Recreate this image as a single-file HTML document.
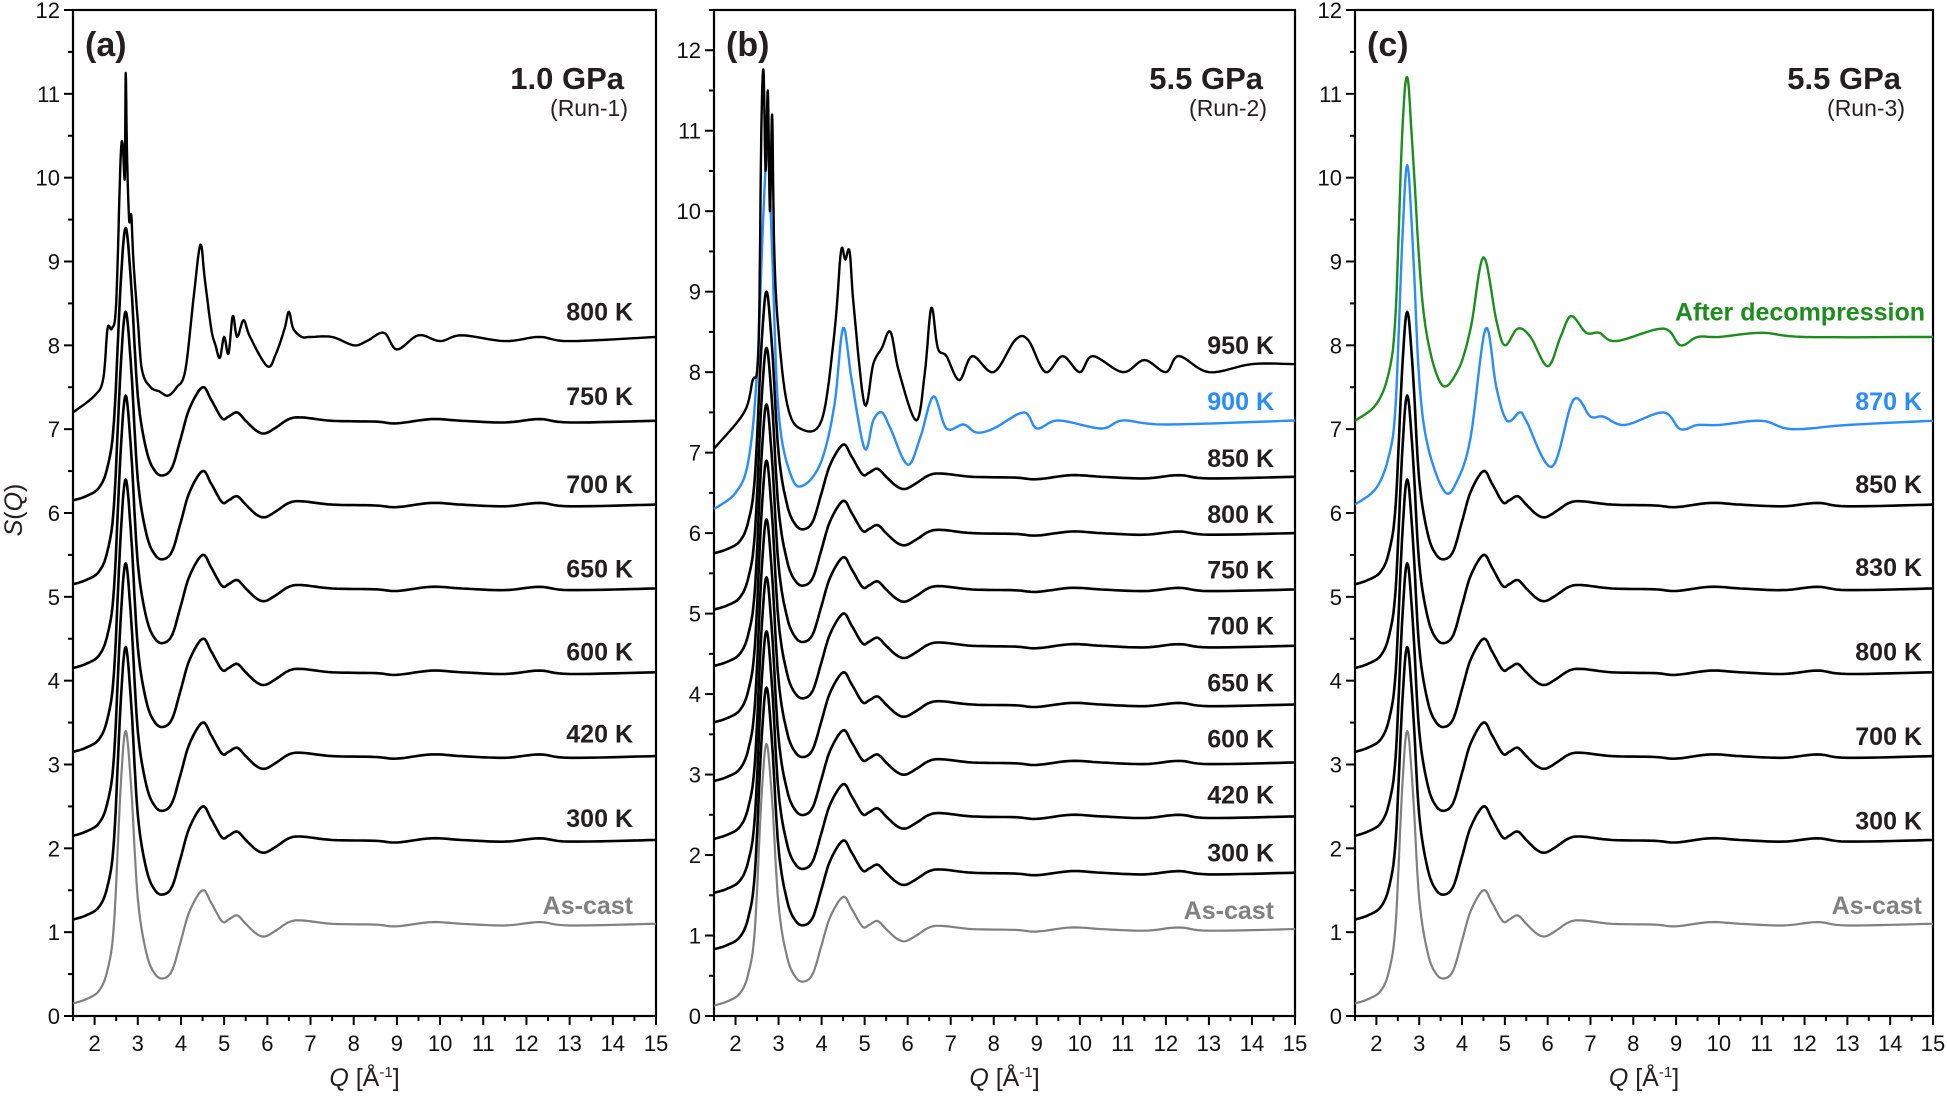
<!DOCTYPE html>
<html><head><meta charset="utf-8"><style>
html,body{margin:0;padding:0;background:#fff;}
svg{display:block;font-family:"Liberation Sans",sans-serif;}
</style></head><body>
<svg id="s" width="1947" height="1096" viewBox="0 0 1947 1096" xmlns="http://www.w3.org/2000/svg"></svg>
<script>
const S=document.getElementById('s');const NS='http://www.w3.org/2000/svg';
const sc=1.2417;
function el(t,a,txt){const e=document.createElementNS(NS,t);for(const k in a)e.setAttribute(k,a[k]);if(txt!==undefined)e.textContent=txt;S.appendChild(e);return e;}
const Y0=1016,YT=10;
const panels=[{L:73,R:656,M:12},{L:714,R:1295,M:12.5},{L:1355,R:1933,M:12}];
function py(p,v){return Y0-v*(Y0-YT)/p.M;}
function px(p,q){return p.L+(q-1.5)/13.5*(p.R-p.L);}
function cr(pts){
 const out=[];for(let i=0;i<pts.length-1;i++){const p0=pts[Math.max(0,i-1)],p1=pts[i],p2=pts[i+1],p3=pts[Math.min(pts.length-1,i+2)];
 for(let k=0;k<8;k++){const t=k/8,t2=t*t,t3=t2*t;
 const f=(a,b,c,d)=>0.5*((2*b)+(-a+c)*t+(2*a-5*b+4*c-d)*t2+(-a+3*b-3*c+d)*t3);
 out.push([f(p0[0],p1[0],p2[0],p3[0]),f(p0[1],p1[1],p2[1],p3[1])]);}}
 out.push(pts[pts.length-1]);return out;}
function curve(p,pts,col,w){const s=cr(pts);let d='';s.forEach((q,i)=>{d+=(i?'L':'M')+px(p,q[0]).toFixed(1)+','+py(p,q[1]).toFixed(1);});
 el('path',{d:d,fill:'none',stroke:col,'stroke-width':w,'stroke-linejoin':'round'});}
const T=[[1.5,-0.95],[1.8,-0.9],[2.1,-0.8],[2.3,-0.55],[2.45,0],[2.6,1.6],[2.72,2.3],[2.85,1.6],[3.0,0.3],[3.2,-0.35],[3.4,-0.6],[3.6,-0.65],[3.8,-0.55],[4.0,-0.2],[4.2,0.15],[4.5,0.4],[4.7,0.25],[4.95,0.03],[5.1,0.05],[5.3,0.1],[5.5,0.0],[5.75,-0.12],[5.95,-0.15],[6.2,-0.08],[6.5,0.02],[6.8,0.04],[7.5,0.0],[8.5,-0.01],[9,-0.03],[9.8,0.02],[10.5,0.0],[11.5,-0.02],[12.3,0.02],[13,-0.02],[15,0]];
function amo(B){return T.map(q=>[q[0],B+q[1]]);}
const BK='#000',GR='#808080',BL='#2a8cff',GN='#1e8c1e';
panels.forEach((p,i)=>{
 el('rect',{x:p.L,y:YT,width:p.R-p.L,height:Y0-YT,fill:'none',stroke:'#000','stroke-width':2.2});
 for(let v=0;v<=p.M+0.01;v+=0.5){const maj=v%1==0;el('line',{x1:p.L-(maj?9:5),x2:p.L,y1:py(p,v),y2:py(p,v),stroke:'#000','stroke-width':2});
  if(maj)el('text',{x:p.L-13,y:py(p,v)+8,'text-anchor':'end','font-size':22,fill:'#111'},v);}
 for(let q=1.5;q<=15.01;q+=0.5){const maj=q%1==0;el('line',{x1:px(p,q),x2:px(p,q),y1:Y0,y2:Y0+(maj?9:5),stroke:'#000','stroke-width':2});
  if(maj)el('text',{x:px(p,q),y:Y0+35,'text-anchor':'middle','font-size':22,fill:'#111'},q);}
 const t=el('text',{x:(p.L+p.R)/2,y:1086,'text-anchor':'middle','font-size':25,fill:'#231f20'});
 t.innerHTML='<tspan font-style="italic">Q</tspan> [Å<tspan font-size="15" dy="-9">-1</tspan><tspan dy="9">]</tspan>';
});
const yl=el('text',{x:0,y:0,'text-anchor':'middle','font-size':25,fill:'#231f20',transform:'translate(22,510) rotate(-90)'});
yl.innerHTML='<tspan font-style="italic">S</tspan>(<tspan font-style="italic">Q</tspan>)';
const tit=[['(a)','1.0 GPa','(Run-1)'],['(b)','5.5 GPa','(Run-2)'],['(c)','5.5 GPa','(Run-3)']];
panels.forEach((p,i)=>{
 el('text',{x:p.L+12,y:56,'font-size':34,'font-weight':'bold',fill:'#231f20'},tit[i][0]);
 el('text',{x:p.R-32,y:89,'text-anchor':'end','font-size':31,'font-weight':'bold',fill:'#231f20'},tit[i][1]);
 el('text',{x:p.R-28,y:116,'text-anchor':'end','font-size':23,fill:'#231f20'},tit[i][2]);
});
function lab(p,txt,yc,col,rx){el('text',{x:rx,y:(yc+8)*sc,'text-anchor':'end','font-size':25,'font-weight':'bold',fill:col},txt);}
let P=panels[0];
curve(P,amo(1.1),GR,2.2);
[2.1,3.1,4.1,5.1,6.1,7.1].forEach(B=>curve(P,amo(B),BK,2.6));
curve(P,[[1.5,7.2],[2.0,7.4],[2.2,7.6],[2.3,8.2],[2.4,8.2],[2.5,8.5],[2.6,10.2],[2.65,10.4],[2.7,10.0],[2.72,11.25],[2.75,10.3],[2.8,9.5],[2.85,9.55],[2.9,9.0],[3.0,8.3],[3.1,7.7],[3.3,7.5],[3.5,7.45],[3.7,7.4],[3.9,7.5],[4.1,7.7],[4.3,8.6],[4.45,9.2],[4.55,8.8],[4.7,8.2],[4.8,8.0],[4.9,7.85],[5.0,8.1],[5.1,7.9],[5.2,8.35],[5.3,8.1],[5.45,8.3],[5.6,8.1],[6.0,7.75],[6.2,7.9],[6.4,8.2],[6.5,8.4],[6.6,8.2],[6.8,8.1],[7,8.1],[7.5,8.1],[8,8.0],[8.3,8.05],[8.7,8.15],[9.0,7.95],[9.5,8.12],[10,8.05],[10.5,8.12],[11.5,8.05],[12.3,8.1],[13,8.05],[15,8.1]],BK,2.4);
[['800 K',250],['750 K',318],['700 K',389],['650 K',457],['600 K',524],['420 K',590],['300 K',658]].forEach(l=>lab(P,l[0],l[1],'#231f20',633));
lab(P,'As-cast',728,GR,633);
P=panels[1];
curve(P,amo(1.08),GR,2.2);
[1.78,2.48,3.15,3.87,4.6,5.3,6.0,6.7].forEach(B=>curve(P,amo(B),BK,2.6));
curve(P,[[1.5,6.3],[2.0,6.5],[2.3,6.9],[2.5,8.0],[2.65,10.0],[2.75,10.8],[2.85,9.5],[3.0,7.5],[3.3,6.7],[3.6,6.6],[4.0,6.9],[4.3,7.6],[4.5,8.55],[4.7,7.9],[5.0,7.05],[5.2,7.4],[5.4,7.5],[5.6,7.3],[6.0,6.85],[6.3,7.2],[6.6,7.7],[6.9,7.3],[7.3,7.35],[7.6,7.25],[8,7.3],[8.7,7.5],[9.0,7.3],[9.5,7.4],[10.5,7.3],[11,7.4],[12,7.35],[15,7.4]],BL,2.4);
curve(P,[[1.5,7.05],[2.2,7.5],[2.4,7.9],[2.5,8.0],[2.55,8.7],[2.6,11.0],[2.65,11.75],[2.7,10.5],[2.75,11.5],[2.8,10.0],[2.85,11.2],[2.9,9.5],[3.0,8.5],[3.2,7.6],[3.5,7.3],[4.0,7.4],[4.3,8.5],[4.45,9.5],[4.55,9.4],[4.65,9.5],[4.75,8.8],[5.0,7.6],[5.2,8.1],[5.4,8.3],[5.6,8.5],[5.8,8.0],[6.2,7.4],[6.4,8.0],[6.55,8.8],[6.7,8.3],[6.9,8.2],[7.2,7.9],[7.5,8.2],[8.0,8.0],[8.5,8.4],[8.8,8.4],[9.2,8.0],[9.6,8.2],[10,8.0],[10.3,8.2],[11,8.0],[11.5,8.15],[12,8.0],[12.3,8.2],[13,8.0],[14,8.1],[15,8.1]],BK,2.4);
[['950 K',277],['850 K',368],['800 K',413],['750 K',458],['700 K',503],['650 K',549],['600 K',594],['420 K',639],['300 K',686]].forEach(l=>lab(P,l[0],l[1],'#231f20',1274));
lab(P,'900 K',322,BL,1274);lab(P,'As-cast',732,GR,1274);
P=panels[2];
curve(P,amo(1.1),GR,2.2);
[2.1,3.1,4.1,5.1,6.1].forEach(B=>curve(P,amo(B),BK,2.6));
curve(P,[[1.5,6.1],[2.0,6.3],[2.3,6.7],[2.45,7.3],[2.6,9.2],[2.72,10.15],[2.85,9.2],[3.0,7.6],[3.2,6.8],[3.6,6.25],[3.9,6.4],[4.2,6.9],[4.55,8.2],[4.8,7.5],[5.05,7.1],[5.35,7.2],[5.5,7.1],[6.1,6.55],[6.6,7.35],[7.0,7.15],[7.3,7.15],[7.8,7.05],[8.7,7.2],[9.1,7.0],[9.5,7.05],[10,7.05],[11,7.1],[11.7,7.0],[13,7.05],[15,7.1]],BL,2.4);
curve(P,[[1.5,7.1],[2.0,7.3],[2.3,7.7],[2.45,8.4],[2.6,10.5],[2.72,11.2],[2.85,10.3],[3.1,8.4],[3.5,7.55],[3.9,7.7],[4.2,8.2],[4.5,9.05],[4.8,8.3],[5.0,8.0],[5.3,8.2],[5.6,8.1],[6.0,7.75],[6.3,8.1],[6.55,8.35],[6.9,8.15],[7.2,8.15],[7.6,8.05],[8.7,8.2],[9.1,8.0],[9.5,8.1],[10,8.1],[11,8.15],[12,8.1],[15,8.1]],GN,2.4);
[['850 K',389],['830 K',456],['800 K',524],['700 K',592],['300 K',660]].forEach(l=>lab(P,l[0],l[1],'#231f20',1922));
lab(P,'870 K',322,BL,1922);lab(P,'After decompression',250,GN,1925);lab(P,'As-cast',728,GR,1922);
</script>
</body></html>
